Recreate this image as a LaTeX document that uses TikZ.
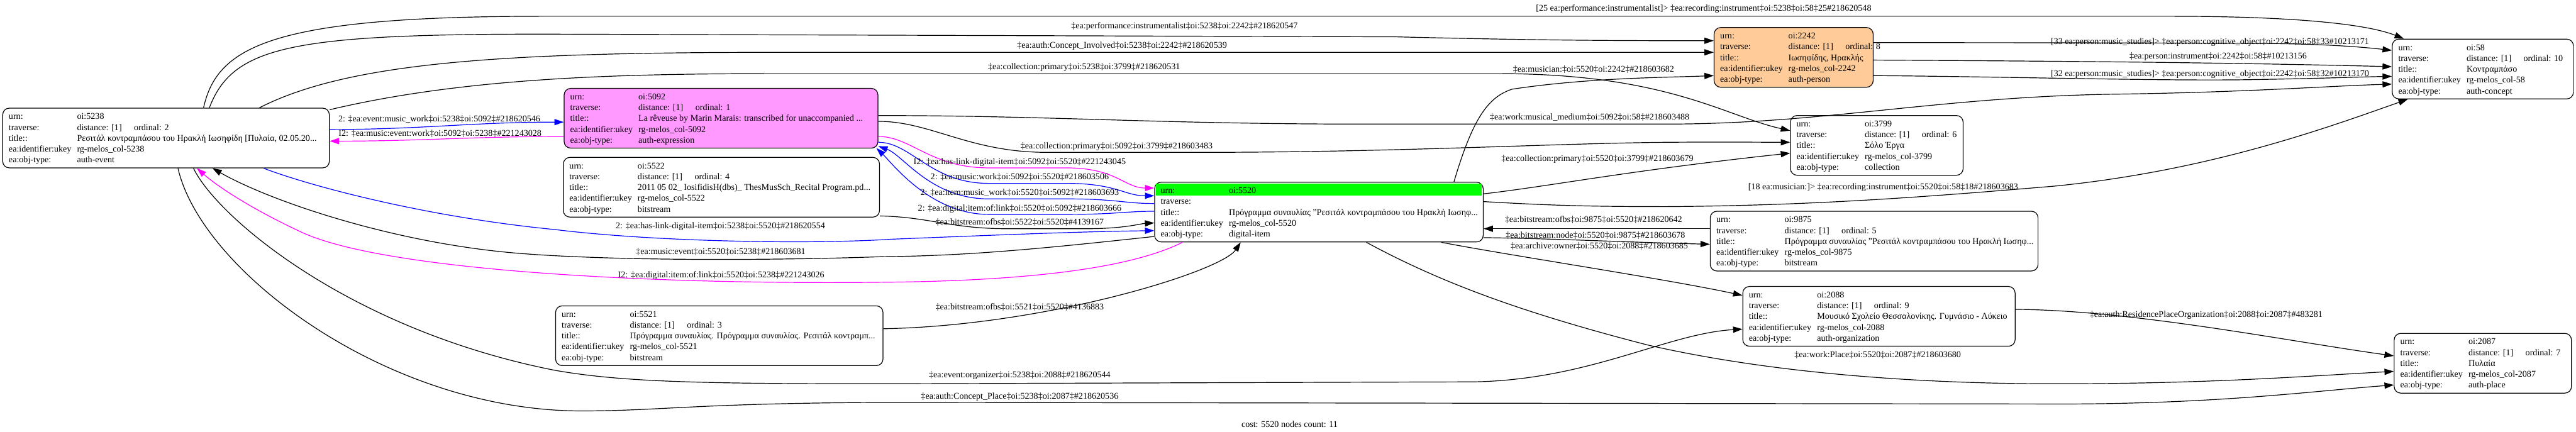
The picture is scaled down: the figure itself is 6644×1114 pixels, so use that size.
\documentclass[tikz,border=0pt]{standalone}
\usepackage{fontspec}
\setmainfont{Liberation Serif}
\usetikzlibrary{arrows.meta,calc}
\definecolor{pinkfill}{HTML}{FF99FF}
\definecolor{orangefill}{HTML}{FFCC99}
\definecolor{greenfill}{HTML}{00FF00}
\definecolor{edgeblue}{HTML}{0000FF}
\definecolor{edgemag}{HTML}{FF00FF}
\tikzset{
 recbox/.style={draw, line width=0.55pt, rounded corners=0.17cm, anchor=north west, minimum height=1.54cm, inner sep=0pt},
 celltext/.style={anchor=west, inner sep=0pt, text height=0.7em, text depth=0.2em},
 elabel/.style={inner sep=0pt, text height=0.7em, text depth=0.2em},
 conn/.style={line width=0.55pt, -{Triangle[length=0.24cm,width=0.16cm]}},
}
\newcommand{\Rec}[4]{\node[recbox,minimum width=#3,#4] (#1) at (#2) {};}
\newcommand{\Rows}[7]{%
 \begin{scope}[shift={(#1.north west)}]
  \node[celltext] (#1-k1) at (16,21) {urn:};
  \node[celltext] (#1-v1) at (192,21) {#2};
  \node[celltext] (#1-k2) at (16,49) {traverse:};
  \node[celltext] (#1-v2) at (192,49) {#3};
  \node[celltext] (#1-o2) at (339,49) {#4};
  \node[celltext] (#1-k3) at (16,77) {title::};
  \node[celltext] (#1-v3) at (192,77) {#5};
  \node[celltext] (#1-k4) at (16,105) {ea:identifier:ukey};
  \node[celltext] (#1-v4) at (192,105) {#6};
  \node[celltext] (#1-k5) at (16,133) {ea:obj-type:};
  \node[celltext] (#1-v5) at (192,133) {#7};
 \end{scope}}
\begin{document}
\begin{tikzpicture}[x=0.01cm,y=-0.01cm,font=\fontsize{6.5pt}{7.8pt}\selectfont]
\useasboundingbox (0,0) rectangle (6644,1114);
\fill[white] (0,0) rectangle (6644,1114);
% boxes
\Rec{n5238}{6,278}{8.42cm}{}
\Rec{n5092}{1454,227}{8.09cm}{fill=pinkfill}
\Rec{n5522}{1452,405}{8.15cm}{}
\Rec{n5521}{1432,788}{8.44cm}{}
\Rec{n5520}{2977,469}{8.47cm}{}
\fill[greenfill] ($(n5520.north west)+(5,5)$) rectangle ($(n5520.north east)+(-5,36)$);
\Rec{n2242}{4420,70}{4.10cm}{fill=orangefill}
\Rec{n3799}{4617,297}{4.45cm}{}
\Rec{n9875}{4410,544}{8.45cm}{}
\Rec{n2088}{4494,738}{7.02cm}{}
\Rec{n58}{6169,100}{4.67cm}{}
\Rec{n2087}{6174,859}{4.57cm}{}
\Rows{n5238}{oi:5238}{distance: [1]}{ordinal: 2}{Ρεσιτάλ κοντραμπάσου του Ηρακλή Ιωσηφίδη [Πυλαία, 02.05.20...}{rg-melos\_col-5238}{auth-event}
\Rows{n5092}{oi:5092}{distance: [1]}{ordinal: 1}{La rêveuse by Marin Marais: transcribed for unaccompanied ...}{rg-melos\_col-5092}{auth-expression}
\Rows{n5522}{oi:5522}{distance: [1]}{ordinal: 4}{2011 05 02\_ IosifidisH(dbs)\_ ThesMusSch\_Recital Program.pd...}{rg-melos\_col-5522}{bitstream}
\Rows{n5521}{oi:5521}{distance: [1]}{ordinal: 3}{Πρόγραμμα συναυλίας. Πρόγραμμα συναυλίας. Ρεσιτάλ κοντραμπ...}{rg-melos\_col-5521}{bitstream}
\Rows{n5520}{oi:5520}{}{}{Πρόγραμμα συναυλίας "Ρεσιτάλ κοντραμπάσου του Ηρακλή Ιωσηφ...}{rg-melos\_col-5520}{digital-item}
\Rows{n2242}{oi:2242}{distance: [1]}{ordinal: 8}{Ιωσηφίδης, Ηρακλής}{rg-melos\_col-2242}{auth-person}
\Rows{n3799}{oi:3799}{distance: [1]}{ordinal: 6}{Σόλο Έργα}{rg-melos\_col-3799}{collection}
\Rows{n9875}{oi:9875}{distance: [1]}{ordinal: 5}{Πρόγραμμα συναυλίας "Ρεσιτάλ κοντραμπάσου του Ηρακλή Ιωσηφ...}{rg-melos\_col-9875}{bitstream}
\Rows{n2088}{oi:2088}{distance: [1]}{ordinal: 9}{Μουσικό Σχολείο Θεσσαλονίκης. Γυμνάσιο - Λύκειο}{rg-melos\_col-2088}{auth-organization}
\Rows{n58}{oi:58}{distance: [1]}{ordinal: 10}{Κοντραμπάσο}{rg-melos\_col-58}{auth-concept}
\Rows{n2087}{oi:2087}{distance: [1]}{ordinal: 7}{Πυλαία}{rg-melos\_col-2087}{auth-place}
% edges from 5238
\draw[conn] ($(n5238.north west)+(519,0)$) .. controls (560,120) and (700,42) .. (1400,42) -- (5600,42) .. controls (5900,42) and (6100,60) .. ($(n58.north west)+(31,0)$);
\draw[conn] ($(n5238.north west)+(534,0)$) .. controls (600,120) and (750,88) .. (1400,88) -- (3600,95) .. controls (4000,105) and (4200,105) .. ($(n2242.north west)+(0,35)$);
\draw[conn] ($(n5238.north west)+(663,0)$) .. controls (900,160) and (1300,135) .. (2000,135) -- (4000,135) .. controls (4200,135) and (4300,135) .. ($(n2242.north west)+(0,65)$);
\draw[conn] ($(n5238.north east)+(0,5)$) .. controls (1200,200) and (1600,190) .. (2000,190) -- (3865,190) .. controls (4300,190) and (4450,300) .. ($(n3799.north west)+(0,40)$);
\draw[conn,edgeblue] ($(n5238.north east)+(0,56)$) to[out=0,in=180] ($(n5092.north west)+(0,88)$);
\draw[conn,edgemag] ($(n5092.north west)+(0,125)$) to[out=180,in=0] ($(n5238.north east)+(0,86)$);
\draw[conn,edgeblue] ($(n5238.south west)+(674,0)$) .. controls (800,480) and (1100,560) .. (1430,592) .. controls (1700,625) and (2100,630) .. (2300,617) .. controls (2600,605) and (2800,597) .. ($(n5520.north west)+(0,126)$);
\draw[conn] ($(n5520.north west)+(0,141)$) .. controls (2700,640) and (2500,660) .. (2280,662) .. controls (1900,675) and (1500,670) .. (1300,650) .. controls (1000,620) and (700,520) .. ($(n5238.south west)+(542,0)$);
\draw[conn,edgemag] ($(n5520.south west)+(73,0)$) .. controls (2900,700) and (2600,725) .. (2280,728) .. controls (1700,735) and (1000,700) .. (780,600) .. controls (650,540) and (560,480) .. ($(n5238.south west)+(502,0)$);
\draw[conn] ($(n5238.south west)+(493,0)$) .. controls (560,560) and (900,850) .. (1430,955) .. controls (1600,985) and (1800,990) .. (2280,990) -- (3800,985) .. controls (4100,980) and (4300,860) .. ($(n2088.north west)+(0,111)$);
\draw[conn] ($(n5238.south west)+(453,0)$) .. controls (520,700) and (1000,1060) .. (1500,1060) .. controls (1700,1060) and (1800,1040) .. (2280,1038) -- (5250,1042) .. controls (5700,1045) and (5950,1010) .. ($(n2087.north west)+(0,134)$);
% edges from 5092
\draw[conn] ($(n5092.north east)+(0,71)$) .. controls (2700,298) and (3000,320) .. (3500,320) -- (4300,320) .. controls (4700,320) and (5000,250) .. (5450,243) .. controls (5800,238) and (6000,222) .. ($(n58.north west)+(0,117)$);
\draw[conn] ($(n5092.north east)+(0,86)$) .. controls (2400,313) and (2500,393) .. (2700,393) -- (3100,393) .. controls (3600,393) and (4000,370) .. (4300,367) .. controls (4450,366) and (4550,367) .. ($(n3799.north west)+(0,70)$);
\draw[conn,edgemag] ($(n5092.north east)+(0,125)$) .. controls (2350,352) and (2400,433) .. (2550,433) -- (2750,433) .. controls (2880,433) and (2900,485) .. ($(n5520.north west)+(0,16)$);
\draw[conn,edgeblue] ($(n5092.north east)+(0,140)$) .. controls (2350,367) and (2400,473) .. (2550,473) -- (2750,473) .. controls (2880,473) and (2900,505) .. ($(n5520.north west)+(0,36)$);
\draw[conn,edgeblue] ($(n5520.north west)+(0,56)$) .. controls (2900,525) and (2880,513) .. (2750,513) -- (2550,513) .. controls (2400,513) and (2330,400) .. ($(n5092.south east)+(0,-6)$);
\draw[conn,edgeblue] ($(n5520.north west)+(0,76)$) .. controls (2900,545) and (2880,553) .. (2750,553) -- (2550,553) .. controls (2400,553) and (2300,420) .. ($(n5092.south east)+(-5,-1)$);
% 5522, 5521
\draw[conn] ($(n5522.south east)+(0,-4)$) .. controls (2400,560) and (2450,590) .. (2600,590) -- (2800,590) .. controls (2900,590) and (2940,577) .. ($(n5520.north west)+(0,106)$);
\draw[conn] ($(n5521.north east)+(0,60)$) .. controls (2700,840) and (3150,700) .. ($(n5520.south west)+(223,0)$);
% edges from 5520
\draw[conn] ($(n5520.north west)+(773,0)$) .. controls (3800,300) and (3840,250) .. (3900,230) .. controls (4100,200) and (4300,200) .. ($(n2242.north west)+(0,125)$);
\draw[conn] ($(n5520.north east)+(0,31)$) .. controls (4000,480) and (4200,440) .. ($(n3799.north west)+(0,98)$);
\draw[conn] ($(n5520.north east)+(0,51)$) .. controls (4000,530) and (4100,533) .. (4300,533) .. controls (4700,530) and (5000,505) .. (5300,480) .. controls (5700,440) and (6000,330) .. ($(n58.south west)+(41,0)$);
\draw[conn] ($(n9875.north west)+(0,46)$) .. controls (4200,590) and (4000,590) .. ($(n5520.north east)+(0,121)$);
\draw[conn] ($(n5520.south east)+(0,-12)$) .. controls (4000,615) and (4200,625) .. ($(n9875.north west)+(0,86)$);
\draw[conn] ($(n5520.south west)+(740,0)$) .. controls (3900,660) and (4300,720) .. ($(n2088.north west)+(0,24)$);
\draw[conn] ($(n5520.south west)+(547,0)$) .. controls (3700,720) and (3900,800) .. (4250,890) .. controls (4600,970) and (5000,990) .. (5300,990) .. controls (5700,990) and (5950,970) .. ($(n2087.north west)+(0,99)$);
% from 2242, 2088
\draw[conn] ($(n2242.north east)+(0,40)$) .. controls (5100,110) and (5450,110) .. (5830,112) .. controls (6000,113) and (6100,122) .. ($(n58.north west)+(0,30)$);
\draw[conn] ($(n2242.north east)+(0,85)$) .. controls (5200,157) and (5700,160) .. ($(n58.north west)+(0,72)$);
\draw[conn] ($(n2242.north east)+(0,125)$) .. controls (5200,198) and (5600,210) .. (5830,205) .. controls (6000,202) and (6100,198) .. ($(n58.north west)+(0,97)$);
\draw[conn] ($(n2088.north east)+(0,60)$) .. controls (5500,800) and (5900,880) .. ($(n2087.north west)+(0,59)$);
% labels
\node[elabel] (l1) at (4394,20) {[25 ea:performance:instrumentalist]> ‡ea:recording:instrument‡oi:5238‡oi:58‡25\#218620548};
\node[elabel] (l2) at (3055,65) {‡ea:performance:instrumentalist‡oi:5238‡oi:2242‡\#218620547};
\node[elabel] (l3) at (2894,115) {‡ea:auth:Concept\_Involved‡oi:5238‡oi:2242‡\#218620539};
\node[elabel] (l4) at (2796,170) {‡ea:collection:primary‡oi:5238‡oi:3799‡\#218620531};
\node[elabel] (l5) at (4110,177) {‡ea:musician:‡oi:5520‡oi:2242‡\#218603682};
\node[elabel] (l6) at (4100,300) {‡ea:work:musical\_medium‡oi:5092‡oi:58‡\#218603488};
\node[elabel] (l7) at (5700,105) {[33 ea:person:music\_studies]> ‡ea:person:cognitive\_object‡oi:2242‡oi:58‡33\#10213171};
\node[elabel] (l8) at (5721,143) {‡ea:person:instrument‡oi:2242‡oi:58‡\#10213156};
\node[elabel] (l9) at (5700,188) {[32 ea:person:music\_studies]> ‡ea:person:cognitive\_object‡oi:2242‡oi:58‡32\#10213170};
\node[elabel] (l10) at (1133,305) {2: ‡ea:event:music\_work‡oi:5238‡oi:5092‡\#218620546};
\node[elabel] (l11) at (1135,343) {I2: ‡ea:music:event:work‡oi:5092‡oi:5238‡\#221243028};
\node[elabel] (l12) at (2880,375) {‡ea:collection:primary‡oi:5092‡oi:3799‡\#218603483};
\node[elabel] (l13) at (2630,415) {I2: ‡ea:has-link-digital-item‡oi:5092‡oi:5520‡\#221243045};
\node[elabel] (l14) at (2630,455) {2: ‡ea:music:work‡oi:5092‡oi:5520‡\#218603506};
\node[elabel] (l15) at (2630,495) {2: ‡ea:item:music\_work‡oi:5520‡oi:5092‡\#218603693};
\node[elabel] (l16) at (2630,535) {2: ‡ea:digital:item:of:link‡oi:5520‡oi:5092‡\#218603666};
\node[elabel] (l17) at (2630,571) {‡ea:bitstream:ofbs‡oi:5522‡oi:5520‡\#4139167};
\node[elabel] (l18) at (1858,581) {2: ‡ea:has-link-digital-item‡oi:5238‡oi:5520‡\#218620554};
\node[elabel] (l19) at (1859,648) {‡ea:music:event‡oi:5520‡oi:5238‡\#218603681};
\node[elabel] (l20) at (1860,707) {I2: ‡ea:digital:item:of:link‡oi:5520‡oi:5238‡\#221243026};
\node[elabel] (l21) at (2630,790) {‡ea:bitstream:ofbs‡oi:5521‡oi:5520‡\#4136883};
\node[elabel] (l22) at (2630,965) {‡ea:event:organizer‡oi:5238‡oi:2088‡\#218620544};
\node[elabel] (l23) at (2630,1020) {‡ea:auth:Concept\_Place‡oi:5238‡oi:2087‡\#218620536};
\node[elabel] (l24) at (4120,407) {‡ea:collection:primary‡oi:5520‡oi:3799‡\#218603679};
\node[elabel] (l25) at (4857,480) {[18 ea:musician:]> ‡ea:recording:instrument‡oi:5520‡oi:58‡18\#218603683};
\node[elabel] (l26) at (4110,564) {‡ea:bitstream:ofbs‡oi:9875‡oi:5520‡\#218620642};
\node[elabel] (l27) at (4115,605) {‡ea:bitstream:node‡oi:5520‡oi:9875‡\#218603678};
\node[elabel] (l28) at (4125,632) {‡ea:archive:owner‡oi:5520‡oi:2088‡\#218603685};
\node[elabel] (l29) at (4843,913) {‡ea:work:Place‡oi:5520‡oi:2087‡\#218603680};
\node[elabel] (l30) at (5690,810) {‡ea:auth:ResidencePlaceOrganization‡oi:2088‡oi:2087‡\#483281};
\node[elabel] (foot) at (3326,1093) {cost: 5520 nodes count: 11};
\end{tikzpicture}
\end{document}
